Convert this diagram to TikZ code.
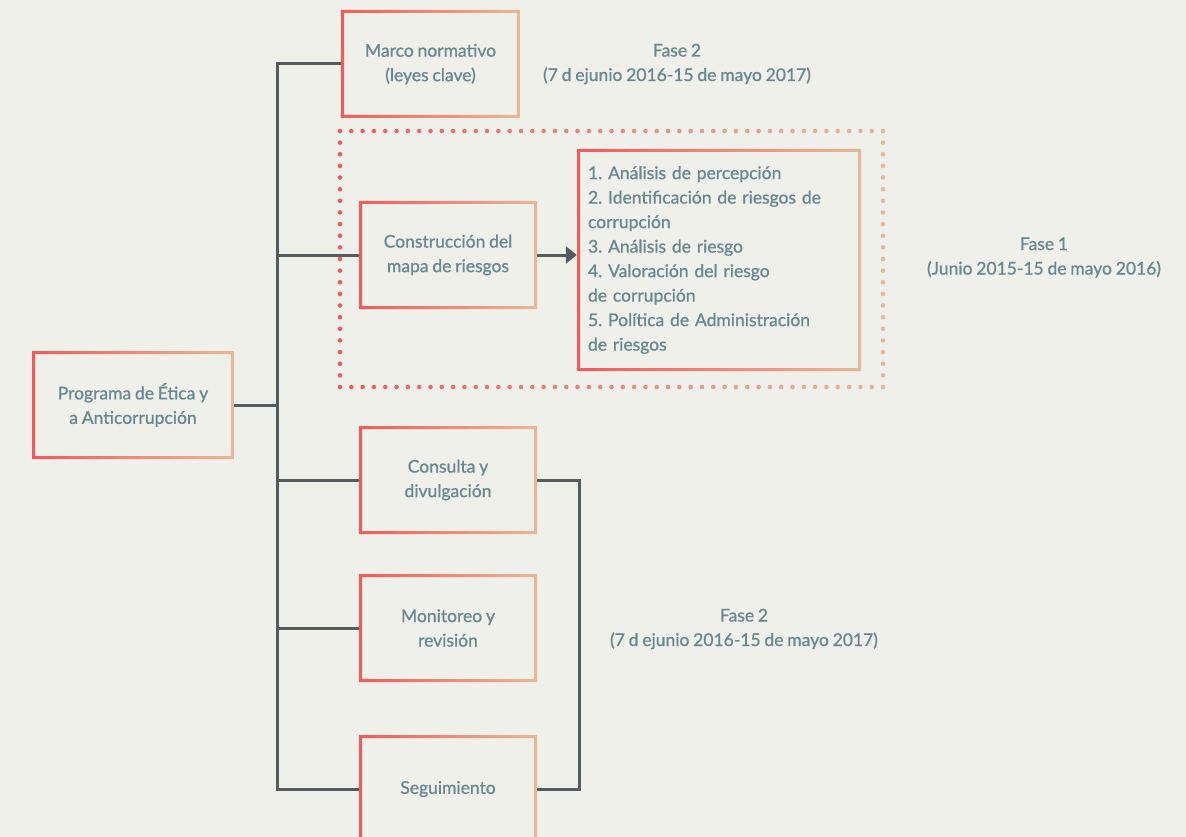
\documentclass[tikz,border=0pt]{standalone}
\usepackage{fontspec}
\setmainfont{Lato}[FakeBold=1.0, WordSpace=0.85]
\usetikzlibrary{arrows.meta}
\definecolor{bg}{HTML}{F0F0EB}
\definecolor{cred}{HTML}{F25A5A}
\definecolor{cpeach}{HTML}{E8B898}
\definecolor{txt}{HTML}{688991}
\definecolor{lnc}{HTML}{545C5F}
\newcommand{\boxfont}{\fontsize{17.5}{24.5}\selectfont}
\frenchspacing
\begin{document}
\begin{tikzpicture}[x=1pt,y=-1pt,
  gbox/.style={rectangle, inner sep=0pt, align=center, text=txt, font=\boxfont, fill=bg,
    path picture={\shade[left color=cred, right color=cpeach, even odd rule]
      (path picture bounding box.south west) rectangle (path picture bounding box.north east)
      ([shift={(3pt,3pt)}]path picture bounding box.south west) rectangle ([shift={(-3pt,-3pt)}]path picture bounding box.north east);}},
  sbox/.style={gbox, minimum width=178pt, minimum height=108pt},
  conn/.style={draw=lnc, line width=3pt, line join=miter},
  lbl/.style={align=center, text=txt, font=\boxfont, inner sep=0pt}
]
\fill[bg] (0,0) rectangle (1186,837);
\useasboundingbox (0,0) rectangle (1186,837);

% dotted frame
\foreach \i in {0,...,48}{
  \pgfmathsetmacro{\xx}{340+\i*11.3125}
  \pgfmathtruncatemacro{\pp}{100-\i*2.0833}
  \fill[cred!\pp!cpeach] (\xx,131) circle (2.3);
  \fill[cred!\pp!cpeach] (\xx,387) circle (2.3);
}
\foreach \j in {1,...,21}{
  \pgfmathsetmacro{\yy}{131+\j*11.636}
  \fill[cred] (340,\yy) circle (2.3);
  \fill[cpeach] (883,\yy) circle (2.3);
}

% boxes
\node[gbox, minimum width=179pt, minimum height=108pt] (marco) at (430.5,64) {Marco normativo\\(leyes clave)};
\node[sbox] (constr) at (448,255) {Construcción del\\mapa de riesgos};
\node[gbox, minimum width=284pt, minimum height=222pt, text width=262pt, align=left, inner xsep=11pt] (list) at (719,260)
  {1. Análisis de percepción\\2. Identificación de riesgos de\\corrupción\\3. Análisis de riesgo\\4. Valoración del riesgo\\de corrupción\\5. Política de Administración\\de riesgos};
\node[gbox, minimum width=202pt, minimum height=108pt] (prog) at (133,405) {Programa de Ética y\\a Anticorrupción};
\node[sbox] (cons) at (448,480) {Consulta y\\divulgación};
\node[sbox] (moni) at (448,628) {Monitoreo y\\revisión};
\node[sbox] (seg) at (448,789) {Seguimiento};

% labels
\node[lbl] (f2a) at (677,64) {Fase 2\\(7 d ejunio 2016-15 de mayo 2017)};
\node[lbl] (f1) at (1044,257.5) {Fase 1\\(Junio 2015-15 de mayo 2016)};
\node[lbl] (f2b) at (744,629) {Fase 2\\(7 d ejunio 2016-15 de mayo 2017)};

% connectors
\coordinate (trunk) at (277,0);
\coordinate (brk) at (579,0);
\draw[conn] (marco.west) -- (marco.west -| trunk) -- (seg.west -| trunk) -- (seg.west);
\draw[conn] (constr.west) -- (constr.west -| trunk);
\draw[conn] (prog.east) -- (prog.east -| trunk);
\draw[conn] (cons.west) -- (cons.west -| trunk);
\draw[conn] (moni.west) -- (moni.west -| trunk);
\draw[conn] (cons.east) -- (cons.east -| brk) -- (seg.east -| brk) -- (seg.east);
\draw[conn, -{Triangle[length=11pt,width=17pt]}] (constr.east) -- (constr.east -| list.west);
\end{tikzpicture}
\end{document}
